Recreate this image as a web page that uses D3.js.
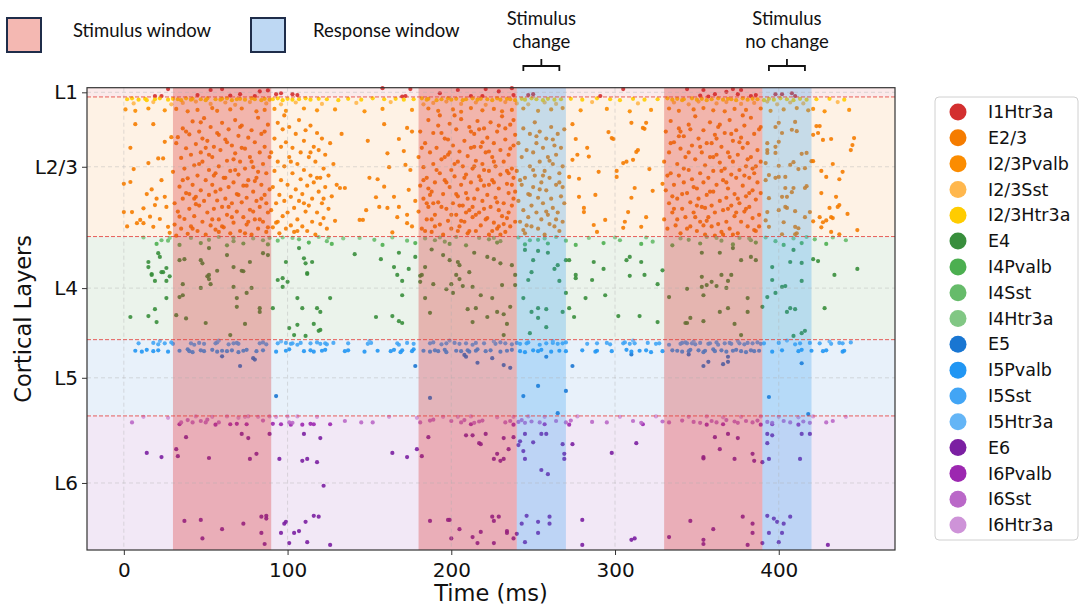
<!DOCTYPE html>
<html>
<head>
<meta charset="utf-8">
<script src="https://cdn.jsdelivr.net/npm/d3@7"></script>
<style>
  body { margin: 0; background: #fff; }
  svg { display: block; }
</style>
</head>
<body>
<div class="chart"></div>
<script>
// ---- layers, ticks, windows ----
const layerNames = ["L1", "L2/3", "L4", "L5", "L6"];
const layerBounds = [0, 20, 322, 545, 710, 1000];   // neuron index
const layerColors = ["#d32f2f", "#f57c00", "#388e3c", "#1976d2", "#7b1fa2"];
const xTicks = [0, 100, 200, 300, 400];
const stimWindows = [[30, 90], [180, 240], [330, 390]];
const respWindows = [[240, 270], [390, 420]];
const bracketLabels = [["Stimulus", "change"], ["Stimulus", "no change"]];

const popNames = ["I1Htr3a", "E2/3", "I2/3Pvalb", "I2/3Sst", "I2/3Htr3a", "E4", "I4Pvalb", "I4Sst", "I4Htr3a",
  "E5", "I5Pvalb", "I5Sst", "I5Htr3a", "E6", "I6Pvalb", "I6Sst", "I6Htr3a"];
const popColors = ["#d32f2f", "#f57c00", "#fb8c00", "#ffb74d", "#ffcc00", "#388e3c", "#4caf50", "#66bb6a", "#81c784",
  "#1976d2", "#2196f3", "#42a5f5", "#64b5f6", "#7b1fa2", "#9c27b0", "#ba68c8", "#ce93d8"];

// ---- spikes: flat [time(ms), neuron, time, neuron, ...] ----
const spI1Htr3a = [27,3, 23,18, 19,18, 53,5, 60,3, 71,14, 80,18, 83,8, 93,14, 96,12, 103,14, 106,16, 158,1, 175,3, 170,19,
  172,18, 204,5, 212,18, 219,18, 221,3, 237,1, 238,16, 247,16, 250,14, 291,18, 305,3, 344,3, 354,5, 361,14, 357,19, 372,3,
  375,14, 377,5, 386,16, 398,14, 402,14, 408,12, 410,18, 45,16, 65,17, 88,6, 193,12, 229,8, 352,17, 368,9, 383,18];

const spI23Htr3a = [2,25, 5,23, 9,26, 13,24, 14,27, 19,25, 22,23, 27,26, 30,24, 33,25, 35,27, 38,23, 41,26, 42,24, 47,25,
  50,27, 51,23, 56,25, 59,26, 60,24, 63,23, 66,27, 69,25, 71,24, 74,26, 78,23, 80,25, 84,27, 86,24, 89,26, 91,25, 94,23,
  97,27, 100,24, 103,26, 107,25, 111,23, 114,26, 119,24, 124,25, 131,27, 137,24, 145,26, 152,23, 159,25, 166,24, 171,26,
  177,25, 182,23, 185,26, 186,24, 191,27, 194,25, 198,23, 200,26, 203,24, 207,27, 209,25, 213,23, 216,26, 218,24, 222,25,
  225,27, 228,23, 230,26, 234,24, 236,25, 239,27, 243,24, 245,26, 249,23, 252,25, 256,27, 259,24, 263,26, 267,25, 273,24,
  280,26, 289,23, 297,25, 303,27, 311,24, 318,26, 326,25, 332,23, 335,26, 338,24, 341,27, 342,25, 347,23, 350,26, 353,24,
  356,27, 359,25, 363,23, 366,26, 369,24, 371,25, 374,27, 378,23, 381,26, 384,24, 387,25, 391,27, 394,24, 397,26, 401,23,
  405,25, 409,27, 413,24, 417,26, 423,25, 431,24, 440,26];

const spI23Sst = [6,34, 18,31, 29,36, 36,33, 44,30, 53,35, 62,32, 68,37, 77,31, 87,34, 96,36, 105,32, 121,35, 142,33,
  163,31, 183,36, 189,33, 197,30, 206,35, 215,32, 221,37, 233,31, 240,34, 247,36, 257,32, 264,35, 286,31, 314,34, 336,32,
  345,36, 351,30, 362,34, 368,31, 377,35, 385,33, 393,30, 399,36, 407,32, 415,34, 436,31];

const spI23Pvalb = [1,47, 7,50, 15,45, 25,49, 32,46, 39,51, 45,48, 54,44, 57,50, 65,47, 72,45, 81,51, 86,48, 92,46, 99,50,
  110,45, 118,49, 129,47, 147,51, 158,46, 176,48, 186,45, 192,50, 201,47, 206,52, 212,44, 219,49, 226,46, 231,51, 237,48,
  244,45, 253,50, 261,47, 268,44, 279,49, 295,46, 309,51, 322,48, 333,45, 339,50, 348,47, 354,44, 360,49, 367,51, 373,46,
  380,48, 389,45, 395,50, 403,47, 411,44, 418,49, 421,46, 428,51, 443,48];

const spE23 = [
  // before stimulus
  0,208, 4,204, 4,130, 6,176, 7,79, 0,269, 5,269, 8,293, 12,261, 12,293, 15,163, 16,279, 18,79, 19,254, 18,301, 21,153,
  23,200, 24,153, 25,236, 25,117, 26,258, 27,301, 28,314, 29,107, 14,230, 20,240, 10,286, 22,284, 2,300, 17,220,
  // stimulus 1
  30,182, 31,250, 31,296, 32,120, 33,107, 33,268, 34,214, 35,152, 35,305, 36,240, 36,88, 37,175, 37,284, 38,131, 38,228,
  39,316, 39,196, 40,262, 40,101, 41,145, 41,300, 42,210, 42,73, 43,168, 43,278, 44,236, 44,122, 45,190, 45,310, 46,255,
  46,95, 47,140, 47,222, 48,290, 48,160, 49,66, 49,245, 50,200, 50,318, 51,115, 51,270, 52,178, 52,232, 53,85, 53,298,
  54,150, 54,210, 55,262, 55,128, 56,185, 56,307, 57,98, 57,244, 58,170, 58,285, 59,135, 59,220, 60,76, 60,258, 61,195,
  61,302, 62,112, 62,240, 63,158, 63,275, 64,90, 64,215, 65,180, 65,315, 66,125, 66,250, 67,205, 67,292, 68,142, 68,70,
  69,230, 69,268, 70,188, 70,104, 71,310, 71,160, 72,248, 72,82, 73,212, 73,280, 74,132, 74,175, 75,296, 75,238, 76,108,
  76,200, 77,264, 77,150, 78,318, 78,92, 79,225, 79,172, 80,285, 80,118, 81,245, 81,195, 82,65, 82,305, 83,140, 83,258,
  84,210, 84,100, 85,290, 85,165, 86,232, 86,128, 87,312, 87,185, 88,80, 88,270, 89,150, 89,220, 34,279, 38,95, 42,305,
  46,165, 50,130, 54,285, 58,102, 62,195, 66,280, 70,232, 74,315, 78,160, 82,182, 86,95, 44,252, 52,145, 60,300, 68,178,
  76,290, 84,240, 36,200, 40,230, 48,110, 56,225, 64,258, 72,130, 80,202, 88,302, 32,320, 87,250, 58,312, 47,75, 63,118,
  71,85, 79,268, 55,190, 43,240, 67,155, 75,212, 83,285,
  // after stimulus 1
  90,265, 90,140, 91,215, 91,302, 92,110, 92,180, 93,250, 93,292, 94,76, 94,160, 95,232, 95,315, 96,128, 96,200, 97,278,
  97,90, 98,170, 98,245, 99,305, 99,118, 100,210, 100,270, 101,150, 101,85, 102,236, 102,298, 103,185, 103,130, 104,260,
  104,312, 105,100, 105,220, 106,165, 106,285, 107,70, 107,245, 108,198, 108,140, 109,300, 109,230, 110,115, 110,178,
  111,268, 111,92, 112,212, 112,310, 113,150, 113,255, 114,82, 114,190, 115,290, 115,240, 116,128, 116,205, 117,318,
  117,160, 118,270, 118,98, 119,225, 119,135, 120,195, 120,295, 121,110, 121,250, 122,175, 122,282, 123,145, 123,215,
  124,305, 125,190, 125,262, 126,120, 127,235, 128,165, 129,288, 130,210, 94,290, 98,60, 102,160, 106,310, 110,250,
  114,140, 118,195, 122,240,
  133,100, 132,217, 149,115, 159,79, 161,142, 162,172, 150,195, 155,198, 159,214, 165,236, 173,87, 176,95, 168,111,
  171,137, 172,167, 175,178, 174,221, 178,245, 144,286, 146,286, 148,265, 154,237, 156,258, 161,260, 164,313, 167,280,
  173,275, 173,293, 176,300, 168,258, 135,217,
  // stimulus 2
  180,150, 180,268, 181,95, 181,212, 182,305, 183,172, 183,240, 184,120, 185,285, 185,195, 186,70, 186,258, 187,140,
  188,225, 188,312, 189,165, 189,98, 190,275, 190,205, 191,130, 192,248, 192,82, 193,185, 193,296, 194,155, 195,230,
  195,318, 196,110, 196,200, 197,262, 198,145, 198,288, 199,78, 199,215, 200,178, 200,305, 201,125, 201,250, 202,192,
  203,90, 203,275, 204,160, 204,235, 205,300, 205,138, 206,210, 206,68, 207,255, 207,170, 208,290, 208,115, 209,228,
  209,188, 210,315, 210,148, 211,85, 211,265, 212,205, 212,130, 213,280, 213,175, 214,240, 214,100, 215,310, 215,158,
  216,220, 216,72, 217,270, 217,192, 218,128, 218,298, 219,245, 219,165, 220,88, 220,212, 221,285, 221,140, 222,232,
  222,108, 223,318, 223,180, 224,258, 224,75, 225,200, 225,150, 226,292, 226,120, 227,238, 227,170, 228,305, 228,95,
  229,218, 229,265, 230,135, 230,188, 231,278, 231,62, 232,250, 232,160, 233,312, 233,112, 234,208, 234,282, 235,145,
  235,228, 236,80, 236,300, 237,175, 237,255, 238,125, 238,195, 239,290, 239,102, 184,310, 187,232, 191,178, 194,98,
  197,205, 200,275, 202,60, 205,255, 208,195, 211,310, 214,170, 217,90, 220,262, 223,138, 226,205, 229,82, 232,295,
  235,185, 238,240, 182,130, 186,218, 190,300, 194,258, 198,112, 202,165, 206,288, 210,240, 214,128, 218,200, 222,282,
  226,160, 230,318, 234,180, 238,70, 188,285, 196,150, 204,310, 212,95, 220,178, 228,248, 236,132, 189,250, 199,140,
  209,270, 219,118, 229,300, 239,225, 183,200, 193,60, 203,230, 213,258, 223,210, 233,88, 185,250, 215,275, 225,310,
  235,270, 237,210,
  // response 1
  240,180, 241,245, 241,120, 242,290, 243,150, 243,210, 244,88, 244,265, 245,195, 245,315, 246,135, 247,230, 247,280,
  248,100, 248,170, 249,255, 249,300, 250,140, 250,215, 251,75, 251,190, 252,270, 252,120, 253,238, 253,305, 254,160,
  254,95, 255,205, 255,285, 256,130, 256,250, 257,180, 257,318, 258,110, 258,222, 259,275, 259,150, 260,195, 260,295,
  261,85, 261,240, 262,165, 262,260, 263,125, 263,300, 264,210, 264,145, 265,270, 265,100, 266,185, 266,310, 267,235,
  267,130, 268,290, 268,170, 269,250, 269,90, 242,200, 246,298, 250,178, 254,220, 258,268, 262,112, 266,205, 244,308,
  248,232, 252,105, 256,190, 260,158, 264,285, 268,215,
  // between
  274,79, 276,111, 277,145, 283,130, 284,149, 274,156, 272,193, 278,197, 278,236, 281,260, 281,269, 288,232, 290,182,
  294,286, 296,96, 298,109, 299,111, 301,193, 301,180, 287,297, 289,312, 305,303, 306,290, 308,269, 310,238, 312,217,
  311,156, 313,139, 314,135, 317,87, 318,89, 319,76, 323,223, 321,176, 319,280, 316,301, 329,208, 310,76, 305,163, 307,160,
  // stimulus 3
  330,160, 330,285, 331,95, 331,222, 332,305, 333,140, 333,250, 334,185, 334,72, 335,270, 336,118, 336,210, 337,298,
  338,165, 338,240, 339,88, 339,190, 340,315, 340,132, 341,262, 342,205, 342,105, 343,280, 343,150, 344,228, 345,80,
  345,178, 346,300, 346,248, 347,125, 347,198, 348,270, 349,155, 349,62, 350,218, 350,310, 351,110, 351,240, 352,185,
  352,290, 353,140, 353,258, 354,92, 354,205, 355,318, 355,168, 356,232, 356,120, 357,280, 357,195, 358,75, 358,150,
  359,255, 359,300, 360,180, 360,225, 361,102, 361,270, 362,145, 362,210, 363,295, 363,85, 364,245, 364,162, 365,128,
  365,312, 366,200, 366,265, 367,98, 367,175, 368,238, 368,290, 369,140, 369,218, 370,70, 370,305, 371,188, 371,255,
  372,115, 372,160, 373,278, 373,230, 374,92, 374,195, 375,315, 375,145, 376,250, 376,178, 377,108, 377,290, 378,212,
  378,130, 379,268, 379,82, 380,235, 380,170, 381,300, 381,120, 382,195, 382,258, 383,150, 383,65, 384,282, 384,222,
  385,100, 385,185, 386,310, 386,242, 387,135, 387,205, 388,275, 388,90, 389,160, 389,228, 332,190, 336,262, 340,95,
  344,305, 348,215, 352,128, 356,288, 360,150, 364,80, 368,205, 372,318, 376,118, 380,262, 384,175, 388,300, 334,120,
  338,285, 342,175, 346,90, 350,255, 354,298, 358,225, 362,110, 366,318, 370,150, 374,270, 378,60, 382,228, 386,170,
  335,235, 345,140, 355,260, 365,180, 375,240, 385,308, 339,105, 349,280, 359,120, 369,262, 379,190, 389,85, 341,230,
  361,320, 371,100, 381,155,
  // response 2
  400,76, 398,85, 410,74, 408,91, 411,94, 402,98, 393,120, 400,117, 398,128, 393,135, 393,141, 398,141, 414,143, 417,141,
  420,159, 409,161, 392,163, 400,169, 407,167, 412,176, 416,174, 394,189, 398,195, 400,193, 404,193, 392,200, 417,213,
  416,217, 404,217, 409,217, 408,226, 402,236, 405,236, 394,239, 404,258, 400,265, 405,260, 410,267, 416,280, 393,269,
  392,287, 394,301, 403,291, 410,301, 412,304, 411,315, 419,269, 402,317, 410,317,
  // tail
  423,83, 425,83, 424,98, 421,102, 427,113, 432,111, 446,109, 445,124, 444,135, 433,165, 421,159, 426,180, 429,193,
  439,182, 437,198, 426,228, 435,236, 437,254, 436,258, 431,260, 442,273, 432,280, 433,282, 425,280, 427,291, 429,287,
  421,289, 426,302, 432,312, 437,317, 448,308];

const spI4Htr3a = [12,324, 41,325, 58,323, 79,326, 97,324, 103,325, 119,323, 144,325, 164,324, 184,326, 203,323, 217,325,
  241,324, 257,326, 264,323, 284,325, 300,324, 340,326, 356,323, 376,325, 392,324, 409,326, 417,323, 433,324, 28,325,
  67,324, 89,325, 125,324, 134,326, 193,324, 226,325, 319,324, 362,325, 382,326];
const spI4Sst = [23,330, 27,331, 52,329, 67,332, 85,330, 94,331, 107,328, 124,332, 153,329, 173,331, 190,330, 196,333,
  223,328, 230,332, 248,330, 253,329, 270,331, 303,330, 323,333, 345,329, 365,331, 383,330, 398,332, 422,328, 441,330];
const spI4Pvalb = [20,338, 34,340, 47,336, 63,341, 73,337, 88,339, 113,335, 127,338, 158,340, 178,336, 199,338, 209,341,
  228,335, 245,339, 259,337, 276,340, 293,336, 316,338, 335,341, 352,337, 372,339, 386,335, 403,340, 414,336, 429,338];

const spE4 = [21,358, 22,366, 15,377, 15,388, 17,405, 24,399, 26,390, 34,373, 37,371, 47,373, 48,380, 52,347, 51,408,
  63,362, 67,388, 73,397, 77,377, 85,358, 88,362, 99,377, 107,347, 110,369, 111,380, 115,377, 112,401,
  4,496, 15,494, 20,507, 19,479, 17,403, 19,418, 23,399, 26,418, 26,455, 28,408, 32,492, 34,453, 36,449, 36,425, 38,499,
  47,433, 50,509, 52,405, 52,414, 53,425, 57,396, 65,535, 67,431, 69,455, 69,474, 72,396, 74,511, 75,444, 78,433, 83,477,
  83,485, 91,477, 94,416, 97,412, 97,431, 100,420, 101,520, 106,513, 104,535, 106,455, 109,477, 111,537, 112,403, 116,511,
  118,477, 120,485, 119,526, 120,524, 126,455,
  157,371, 165,388, 168,357, 174,392, 167,405, 178,366, 182,405, 184,388, 199,373, 204,377, 205,384, 211,399, 214,357,
  222,366, 230,380, 237,384, 239,405, 245,351, 250,373, 253,353, 259,357, 263,392, 265,384, 249,399, 270,373, 272,373,
  276,412, 287,377, 293,392, 307,373, 309,366, 316,377, 329,395,
  170,418, 170,449, 154,496, 164,494, 168,505, 170,509, 181,407, 181,420, 189,425, 184,455, 187,487, 197,436, 201,444,
  200,425, 203,405, 205,414, 207,429, 210,479, 213,507, 215,477, 213,431, 218,449, 222,496, 225,455, 228,485, 231,427,
  232,490, 234,511, 232,535, 236,474, 239,427, 244,455, 247,416, 249,485, 253,498, 253,477, 258,479, 258,518, 248,531,
  266,418, 268,485, 270,444, 272,477, 275,496, 276,405, 282,455, 286,416, 294,449, 302,494, 309,407, 315,494, 318,405,
  326,425, 326,507, 333,453, 344,435, 344,509, 346,498,
  343,509, 353,409, 353,431, 354,449, 354,505, 356,427, 359,420, 362,429, 365,405, 369,418, 368,433, 364,485, 369,477,
  373,511, 377,535, 381,455, 381,485, 390,474, 371,405, 393,453, 396,416, 398,444, 402,431, 404,429, 405,485, 407,477,
  410,479, 414,418, 409,537, 414,531, 416,526, 428,477, 434,405,
  353,357, 364,357, 372,347, 377,373, 383,366, 386,373, 396,388, 407,377, 409,351, 414,379, 421,371, 424,375, 448,392,
  141,360, 188,350, 195,362, 226,371];

const spI5Htr3a = [22,548, 58,547, 96,549, 150,548, 199,547, 226,549, 262,548, 311,547, 348,549, 375,548, 405,547, 431,549];
const spI5Sst = [9,553, 18,552, 21,555, 25,553, 29,551, 30,554, 41,553, 43,556, 46,552, 49,554, 56,553, 57,551, 64,555,
  67,553, 69,552, 70,554, 83,553, 85,551, 87,555, 94,553, 99,552, 102,554, 103,553, 106,556, 108,552, 114,553, 118,551,
  120,554, 123,553, 124,555, 128,552, 137,553, 149,554, 151,552, 167,553, 168,556, 173,552, 177,554, 187,553, 189,551,
  194,555, 197,553, 202,552, 205,554, 209,553, 213,556, 215,552, 220,553, 227,554, 230,551, 233,553, 237,555, 240,552,
  242,554, 246,553, 247,551, 254,556, 258,553, 262,552, 265,554, 268,553, 270,551, 283,554, 289,553, 295,552, 297,555,
  305,553, 306,551, 309,554, 312,553, 320,552, 325,554, 327,553, 333,556, 341,552, 344,553, 340,554, 343,551, 347,553,
  349,555, 352,552, 357,554, 358,553, 362,551, 363,556, 367,553, 370,552, 371,554, 376,553, 379,555, 381,552, 384,553,
  387,551, 389,554, 391,553, 400,552, 410,555, 413,553, 419,552, 425,553, 432,554, 437,552, 439,553, 444,551];
const spI5Pvalb = [7,569, 11,571, 14,567, 18,570, 21,568, 27,571, 34,569, 39,566, 40,570, 42,572, 47,568, 49,570, 54,567,
  57,571, 60,569, 63,570, 66,568, 70,572, 73,569, 75,567, 81,570, 85,568, 93,571, 99,569, 101,566, 110,570, 114,568,
  116,571, 121,569, 123,567, 135,570, 137,568, 147,571, 155,569, 163,570, 165,567, 169,572, 170,568, 176,570, 177,566,
  183,569, 187,571, 190,568, 192,570, 196,567, 197,572, 203,569, 206,570, 210,568, 211,571, 215,569, 216,566, 221,570,
  224,568, 230,571, 234,569, 237,567, 242,570, 245,572, 250,568, 253,570, 255,567, 261,571, 266,569, 270,570, 280,568,
  288,571, 289,569, 298,570, 307,567, 310,571, 315,569, 319,568, 322,572, 329,570, 335,568, 338,569, 341,571, 346,567,
  345,570, 351,568, 354,572, 355,569, 360,566, 361,570, 365,568, 368,571, 372,569, 374,567, 377,570, 380,572, 383,568,
  385,570, 388,569, 396,571, 402,568, 412,570, 414,567, 420,569, 427,570, 429,568, 439,571, 440,569];
const spE5 = [60,581, 79,585, 71,602, 93,667, 178,602, 187,671, 208,578, 209,582, 216,595, 225,585, 232,600, 236,606,
  244,667, 253,645, 258,582, 270,656, 274,602, 265,704, 310,577, 354,602, 369,582, 369,593, 357,593, 366,598, 345,577,
  394,669, 418,706, 414,596, 80,588];

const spI6Htr3a = [12,712, 27,714, 44,711, 54,712, 63,711, 70,714, 74,712, 76,711, 82,712, 89,711, 93,712, 100,711,
  106,711, 118,712, 162,712, 179,714, 195,712, 204,712, 212,711, 228,713, 238,712, 247,711, 257,712, 277,711, 303,712,
  325,711, 345,712, 356,711, 366,713, 377,712, 389,711, 400,712, 412,713, 421,711, 441,712];
const spI6Sst = [5,724, 35,724, 39,719, 42,724, 47,721, 50,724, 51,718, 58,724, 85,720, 101,724, 103,725, 135,721,
  145,724, 152,724, 181,724, 187,720, 189,718, 200,721, 206,724, 208,719, 214,725, 217,722, 219,720, 233,724, 236,721,
  241,723, 243,719, 245,725, 249,722, 254,724, 264,721, 270,724, 273,720, 286,723, 295,724, 311,721, 316,725, 329,722,
  333,724, 341,720, 348,723, 352,725, 359,721, 362,724, 368,719, 373,722, 375,725, 380,721, 384,724, 387,720, 393,723,
  396,725, 403,721, 407,724, 415,722, 419,725, 429,724, 433,721];
const spI6Pvalb = [34,728, 56,729, 65,728, 69,727, 75,728, 91,727, 96,728, 102,729, 109,729, 114,727, 116,728, 126,728,
  212,728, 238,729, 257,728, 272,729, 317,728, 356,729, 366,728, 389,729, 396,728, 412,729];
const spE6 = [38,756, 32,782, 33,797, 52,801, 14,790, 23,799, 72,749, 76,758, 81,792, 77,803, 89,749, 95,803, 110,749,
  120,758, 109,807, 112,803, 118,810, 122,861, 37,937, 47,935, 48,975, 60,955, 73,943, 84,928, 87,926, 87,932, 84,963,
  86,987, 96,963, 98,943, 99,939, 101,985, 104,963, 107,959, 111,939, 116,926, 119,928, 112,983, 126,989, 164,790,
  173,799, 179,782, 182,797, 186,756, 187,937, 199,935, 200,975, 205,955,
  209,752, 213,752, 217,769, 218,771, 221,749, 232,758, 235,782, 228,792, 226,803, 230,807, 232,803, 238,756, 241,773,
  242,765, 245,749, 250,767, 255,749, 258,749, 244,786, 245,803, 255,827, 259,836, 268,771, 269,792, 269,803, 274,771,
  298,790, 313,769, 198,935, 213,972, 216,985, 218,961, 225,928, 226,937, 229,928, 234,959, 234,963, 226,985, 238,975,
  240,965, 243,943, 246,926, 245,983, 253,939, 253,963, 260,928, 260,943, 280,935, 280,989, 310,978, 312,975, 333,972,
  346,937, 354,978, 354,987, 360,955, 378,928, 384,943, 384,963, 381,989, 390,985, 393,926, 394,963, 397,932, 399,939,
  402,963, 403,943, 400,983, 407,928, 354,799, 354,802, 361,756, 364,782, 369,749, 375,758, 373,803, 384,792, 385,807,
  390,810, 394,803, 393,749, 393,769, 396,752, 414,749, 419,749, 413,803, 430,989];

const popSpikes = [spI1Htr3a, spE23, spI23Pvalb, spI23Sst, spI23Htr3a, spE4, spI4Pvalb, spI4Sst, spI4Htr3a,
  spE5, spI5Pvalb, spI5Sst, spI5Htr3a, spE6, spI6Pvalb, spI6Sst, spI6Htr3a];

// ---- layout ----
const W = 1080, H = 606;
const plot = {left: 87, right: 895, top: 87.7, bottom: 550};

const svg = d3.select(".chart").append("svg")
  .attr("width", W).attr("height", H)
  .attr("font-family", "'DejaVu Sans', sans-serif");

const x = d3.scaleLinear().domain([-22.5, 471]).range([plot.left, plot.right]);
const y = d3.scaleLinear().domain([0, 1000]).range([plot.top, plot.bottom]);
const layerMids = layerNames.map((d, i) => (layerBounds[i] + layerBounds[i + 1]) / 2);

// layer backgrounds
svg.append("g").selectAll("rect")
  .data(layerNames)
  .join("rect")
  .attr("x", plot.left)
  .attr("width", plot.right - plot.left)
  .attr("y", (d, i) => y(layerBounds[i]))
  .attr("height", (d, i) => y(layerBounds[i + 1]) - y(layerBounds[i]))
  .attr("fill", (d, i) => layerColors[i])
  .attr("fill-opacity", 0.1);

// spikes
const dots = svg.append("g");
popSpikes.forEach((arr, p) => {
  const pts = [];
  for (let i = 0; i < arr.length; i += 2) pts.push([arr[i], arr[i + 1]]);
  dots.append("g").selectAll("circle")
    .data(pts)
    .join("circle")
    .attr("cx", d => x(d[0]))
    .attr("cy", d => y(d[1]))
    .attr("r", 2.1)
    .attr("fill", popColors[p])
    .attr("fill-opacity", 0.9);
});

// stimulus / response windows (drawn over the dots)
svg.append("g").selectAll("rect")
  .data(stimWindows)
  .join("rect")
  .attr("x", d => x(d[0]))
  .attr("width", d => x(d[1]) - x(d[0]))
  .attr("y", plot.top)
  .attr("height", plot.bottom - plot.top)
  .attr("fill", "#d62728")
  .attr("fill-opacity", 0.3);

svg.append("g").selectAll("rect")
  .data(respWindows)
  .join("rect")
  .attr("x", d => x(d[0]))
  .attr("width", d => x(d[1]) - x(d[0]))
  .attr("y", plot.top)
  .attr("height", plot.bottom - plot.top)
  .attr("fill", "#2196f3")
  .attr("fill-opacity", 0.25);

// grid
const grid = svg.append("g")
  .attr("stroke", "#b0b0b0")
  .attr("stroke-opacity", 0.5)
  .attr("stroke-dasharray", "4,3")
  .attr("stroke-width", 0.8);
grid.selectAll(".gx").data(xTicks).join("line")
  .attr("x1", d => x(d)).attr("x2", d => x(d))
  .attr("y1", plot.top).attr("y2", plot.bottom);
grid.selectAll(".gy").data(layerMids).join("line")
  .attr("x1", plot.left).attr("x2", plot.right)
  .attr("y1", d => y(d)).attr("y2", d => y(d));

// layer boundaries
svg.append("g").selectAll("line")
  .data(layerBounds.slice(1, -1))
  .join("line")
  .attr("x1", plot.left).attr("x2", plot.right)
  .attr("y1", d => y(d)).attr("y2", d => y(d))
  .attr("stroke", "#e53935")
  .attr("stroke-opacity", 0.8)
  .attr("stroke-width", 1)
  .attr("stroke-dasharray", "4,2");

// frame
svg.append("rect")
  .attr("x", plot.left).attr("y", plot.top)
  .attr("width", plot.right - plot.left).attr("height", plot.bottom - plot.top)
  .attr("fill", "none").attr("stroke", "#333").attr("stroke-width", 1.2);

// axes
const xAxis = d3.axisBottom(x).tickValues(xTicks).tickSize(5).tickPadding(8);
svg.append("g")
  .attr("transform", `translate(0,${plot.bottom})`)
  .call(xAxis)
  .call(g => g.select(".domain").remove())
  .call(g => g.selectAll("line").attr("stroke", "#333"))
  .call(g => g.selectAll("text").attr("font-size", 20).attr("font-family", "'DejaVu Sans', sans-serif").attr("fill", "#111"));

const yAxis = d3.axisLeft(y).tickValues(layerMids).tickFormat((d, i) => layerNames[i]).tickSize(5).tickPadding(4);
svg.append("g")
  .attr("transform", `translate(${plot.left},0)`)
  .call(yAxis)
  .call(g => g.select(".domain").remove())
  .call(g => g.selectAll("line").attr("stroke", "#333"))
  .call(g => g.selectAll("text").attr("font-size", 20).attr("font-family", "'DejaVu Sans', sans-serif").attr("fill", "#111"));

svg.append("text")
  .attr("x", (plot.left + plot.right) / 2).attr("y", 601)
  .attr("text-anchor", "middle").attr("font-size", 22.5).attr("fill", "#111")
  .text("Time (ms)");

svg.append("text")
  .attr("transform", `translate(31,${(plot.top + plot.bottom) / 2}) rotate(-90)`)
  .attr("text-anchor", "middle").attr("font-size", 22.5).attr("fill", "#111")
  .text("Cortical Layers");

// top legend
const topLegend = [
  {label: "Stimulus window", fill: "#f4b8b2", x: 7, tx: 73},
  {label: "Response window", fill: "#bed8f3", x: 251, tx: 313}
];
const tl = svg.append("g").attr("font-family", "Lato, 'Open Sans', sans-serif");
tl.selectAll("rect").data(topLegend).join("rect")
  .attr("x", d => d.x).attr("y", 18).attr("width", 34).attr("height", 34)
  .attr("fill", d => d.fill).attr("stroke", "#1f2d4a").attr("stroke-width", 2);
tl.selectAll("text").data(topLegend).join("text")
  .attr("x", d => d.tx).attr("y", 37)
  .attr("font-size", 18.5).attr("fill", "#111")
  .text(d => d.label);

// brackets over the response windows
const br = svg.append("g").attr("font-family", "Lato, 'Open Sans', sans-serif");
respWindows.forEach((w, i) => {
  const cx = x((w[0] + w[1]) / 2);
  br.append("path")
    .attr("d", `M${cx - 18},71V66H${cx + 18}V71M${cx},66V59`)
    .attr("fill", "none").attr("stroke", "#111").attr("stroke-width", 1.8);
  br.append("text")
    .attr("x", cx).attr("y", 25).attr("text-anchor", "middle")
    .attr("font-size", 18.5).attr("fill", "#111")
    .text(bracketLabels[i][0]);
  br.append("text")
    .attr("x", cx).attr("y", 48).attr("text-anchor", "middle")
    .attr("font-size", 18.5).attr("fill", "#111")
    .text(bracketLabels[i][1]);
});

// right legend
const lg = svg.append("g");
lg.append("rect")
  .attr("x", 935).attr("y", 97).attr("width", 143).attr("height", 443)
  .attr("rx", 4).attr("fill", "#fff").attr("stroke", "#d0d0d0");
const rowY = d3.scaleLinear().domain([0, popNames.length - 1]).range([112, 525]);
lg.selectAll("circle").data(popNames).join("circle")
  .attr("cx", 958).attr("cy", (d, i) => rowY(i)).attr("r", 8.5)
  .attr("fill", (d, i) => popColors[i]);
lg.selectAll("text").data(popNames).join("text")
  .attr("x", 988).attr("y", (d, i) => rowY(i)).attr("dy", "0.35em")
  .attr("font-size", 17.5).attr("fill", "#111")
  .text(d => d);
</script>
</body>
</html>
